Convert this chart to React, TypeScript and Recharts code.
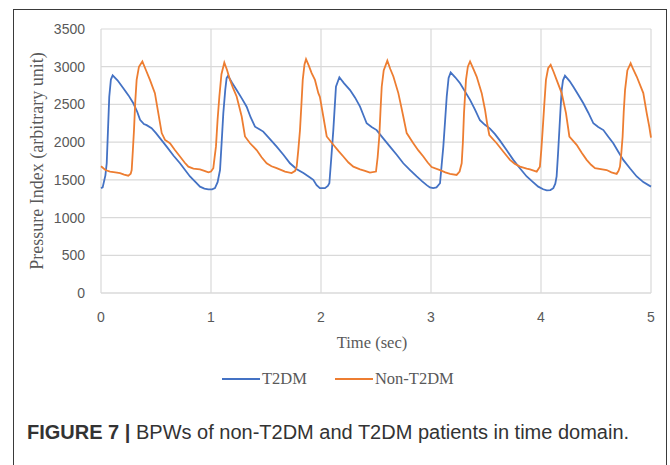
import { LineChart, Line, XAxis, YAxis, CartesianGrid } from "recharts";

// time (sec) / pressure index pairs
const T2DM_T = [
  0, 0.015, 0.04, 0.052, 0.075, 0.09, 0.106, 0.15, 0.203, 0.25, 0.294, 0.33, 0.355, 0.39, 0.415, 0.46, 0.5, 0.597,
  0.66, 0.718, 0.809, 0.86, 0.9, 0.94, 0.976, 1.01, 1.036, 1.06, 1.082, 1.097, 1.112, 1.13, 1.142, 1.155, 1.19, 1.233,
  1.28, 1.324, 1.36, 1.4, 1.44, 1.475, 1.53, 1.597, 1.66, 1.718, 1.78, 1.84, 1.9, 1.93, 1.96, 1.99, 2.036, 2.062,
  2.076, 2.094, 2.112, 2.136, 2.167, 2.21, 2.264, 2.31, 2.355, 2.385, 2.415, 2.46, 2.506, 2.56, 2.627, 2.69, 2.748,
  2.81, 2.87, 2.92, 2.961, 2.99, 3.02, 3.05, 3.082, 3.097, 3.112, 3.128, 3.143, 3.16, 3.179, 3.22, 3.264, 3.31, 3.355,
  3.4, 3.445, 3.49, 3.536, 3.58, 3.627, 3.69, 3.748, 3.81, 3.87, 3.92, 3.975, 4.02, 4.052, 4.085, 4.112, 4.13, 4.142,
  4.155, 4.167, 4.178, 4.188, 4.2, 4.218, 4.26, 4.294, 4.34, 4.385, 4.43, 4.476, 4.52, 4.567, 4.61, 4.657, 4.7, 4.748,
  4.81, 4.87, 4.93, 5,
];
const T2DM_V = [
  1390, 1400, 1560, 1720, 2600, 2830, 2885, 2820, 2715, 2620, 2515, 2400, 2295, 2240, 2225, 2185, 2120, 1940,
  1820, 1720, 1545, 1470, 1410, 1385, 1375, 1375, 1390, 1470, 1630, 2000, 2385, 2700, 2850, 2880, 2790, 2690,
  2580, 2470, 2330, 2205, 2170, 2140, 2050, 1940, 1830, 1720, 1640, 1590, 1530, 1500, 1430, 1390, 1390, 1420,
  1455, 1800, 2160, 2735, 2860, 2780, 2690, 2590, 2470, 2360, 2250, 2200, 2160, 2060, 1940, 1830, 1720,
  1630, 1545, 1480, 1430, 1400, 1390, 1400, 1455, 1700, 1940, 2280, 2605, 2850, 2925, 2860, 2780, 2670, 2560,
  2430, 2290, 2230, 2180, 2110, 2020, 1890, 1765, 1650, 1545, 1480, 1410, 1375, 1360, 1365, 1390, 1450, 1545,
  1850, 2160, 2450, 2690, 2820, 2880, 2810, 2735, 2625, 2515, 2390, 2250, 2200, 2160, 2075, 1985, 1880, 1765,
  1650, 1545, 1470, 1410,
];

const NON_T = [
  0, 0.04, 0.082, 0.13, 0.173, 0.21, 0.248, 0.27, 0.279, 0.29, 0.3, 0.312, 0.324, 0.345, 0.376, 0.41, 0.445, 0.49,
  0.521, 0.552, 0.582, 0.627, 0.67, 0.718, 0.76, 0.794, 0.84, 0.9, 0.94, 0.976, 1, 1.021, 1.033, 1.045, 1.06, 1.076,
  1.095, 1.121, 1.145, 1.173, 1.2, 1.233, 1.255, 1.279, 1.309, 1.355, 1.415, 1.46, 1.506, 1.55, 1.597, 1.673, 1.733,
  1.765, 1.779, 1.794, 1.809, 1.822, 1.834, 1.85, 1.864, 1.89, 1.915, 1.945, 1.976, 1.99, 2.021, 2.052, 2.112, 2.16,
  2.203, 2.25, 2.294, 2.355, 2.4, 2.445, 2.5, 2.515, 2.53, 2.542, 2.552, 2.57, 2.603, 2.63, 2.658, 2.703, 2.725,
  2.748, 2.779, 2.839, 2.885, 2.93, 2.97, 3.006, 3.082, 3.13, 3.173, 3.233, 3.26, 3.279, 3.29, 3.3, 3.318, 3.335,
  3.355, 3.385, 3.415, 3.461, 3.491, 3.51, 3.53, 3.597, 3.66, 3.718, 3.76, 3.809, 3.87, 3.9, 3.961, 3.99, 4.003,
  4.015, 4.03, 4.045, 4.065, 4.088, 4.115, 4.142, 4.188, 4.227, 4.258, 4.324, 4.37, 4.415, 4.455, 4.491, 4.597,
  4.64, 4.688, 4.705, 4.718, 4.73, 4.742, 4.752, 4.764, 4.785, 4.815, 4.84, 4.87, 4.93, 4.961, 4.985, 5,
];
const NON_V = [
  1680, 1630, 1610, 1600, 1590, 1570, 1555, 1580, 1630, 1900, 2160, 2550, 2825, 3000, 3070, 2950, 2825, 2650,
  2385, 2120, 2030, 1985, 1900, 1810, 1730, 1675, 1650, 1640, 1620, 1600, 1610, 1655, 1800, 1940, 2300, 2605,
  2900, 3055, 2960, 2825, 2720, 2605, 2480, 2340, 2075, 1985, 1895, 1800, 1720, 1680, 1655, 1610, 1590,
  1620, 1675, 1900, 2160, 2500, 2825, 3030, 3100, 3010, 2915, 2825, 2650, 2600, 2340, 2075, 1965, 1880,
  1810, 1730, 1675, 1640, 1620, 1595, 1610, 1800, 2075, 2450, 2735, 2950, 3080, 2970, 2870, 2650, 2500,
  2340, 2120, 1985, 1890, 1810, 1730, 1670, 1630, 1600, 1580, 1565, 1610, 1720, 2000, 2385, 2825, 3000,
  3070, 2970, 2870, 2650, 2430, 2250, 2095, 1985, 1870, 1765, 1715, 1675, 1650, 1640, 1610, 1675, 1900,
  2160, 2500, 2825, 2980, 3025, 2930, 2825, 2650, 2385, 2075, 1965, 1860, 1765, 1700, 1655, 1630,
  1600, 1580, 1620, 1675, 1850, 2075, 2400, 2690, 2950, 3045, 2960, 2870, 2650, 2385, 2200, 2060,
];

const X_TICKS = [0, 1, 2, 3, 4, 5];
const Y_TICKS = [0, 500, 1000, 1500, 2000, 2500, 3000, 3500];

const t2dm = T2DM_T.map((t, i) => ({ t, v: T2DM_V[i] }));
const nonT2dm = NON_T.map((t, i) => ({ t, v: NON_V[i] }));

const BLUE = "#4472C4";
const ORANGE = "#ED7D31";
const tickStyle = { fontFamily: "'Liberation Sans', Arial, sans-serif", fontSize: 14, fill: "#595959" };
const serif = "'Liberation Serif', 'Times New Roman', serif";

export default function App() {
  return (
    <div style={{ position: "absolute", left: 0, top: 0, width: 670, height: 465, background: "#fff", overflow: "hidden" }}>
      {/* figure frame */}
      <div
        style={{
          position: "absolute",
          left: 13,
          top: 9,
          width: 654,
          height: 470,
          border: "1px solid #3a3a3a",
          boxSizing: "border-box",
        }}
      />
      <div style={{ position: "absolute", left: 0, top: 0 }}>
        <LineChart width={670} height={360} margin={{ top: 29, right: 19, left: 41, bottom: 7 }}>
          <CartesianGrid stroke="#d9d9d9" strokeWidth={1.2} />
          <XAxis
            dataKey="t"
            type="number"
            domain={[0, 5]}
            ticks={X_TICKS}
            height={60}
            allowDuplicatedCategory={false}
            axisLine={{ stroke: "#d9d9d9", strokeWidth: 1.2 }}
            tickLine={false}
            tickMargin={13}
            tick={tickStyle}
            label={{
              content: (props: any) => {
                const vb = props.viewBox;
                return (
                  <text
                    x={vb.x + vb.width / 2 - 4}
                    y={vb.y + 49}
                    textAnchor="middle"
                    dominantBaseline="central"
                    style={{ fontFamily: serif, fontSize: 16.5, fill: "#595959" }}
                  >
                    Time (sec)
                  </text>
                );
              },
            }}
          />
          <YAxis
            type="number"
            domain={[0, 3500]}
            ticks={Y_TICKS}
            width={60}
            axisLine={false}
            tickLine={false}
            tickMargin={10}
            tick={tickStyle}
            label={{
              content: (props: any) => {
                const vb = props.viewBox;
                const cx = vb.x - 4;
                const cy = vb.y + vb.height / 2;
                return (
                  <text
                    x={cx}
                    y={cy}
                    transform={`rotate(-90 ${cx} ${cy})`}
                    textAnchor="middle"
                    dominantBaseline="central"
                    style={{ fontFamily: serif, fontSize: 18, fill: "#595959" }}
                  >
                    Pressure Index (arbitrary unit)
                  </text>
                );
              },
            }}
          />
          <Line
            data={t2dm}
            dataKey="v"
            name="T2DM"
            type="linear"
            stroke={BLUE}
            strokeWidth={1.8}
            dot={false}
            isAnimationActive={false}
          />
          <Line
            data={nonT2dm}
            dataKey="v"
            name="Non-T2DM"
            type="linear"
            stroke={ORANGE}
            strokeWidth={1.8}
            dot={false}
            isAnimationActive={false}
          />
        </LineChart>
      </div>
      {/* legend */}
      <div
        style={{
          position: "absolute",
          left: 222,
          top: 369,
          display: "flex",
          alignItems: "center",
          fontFamily: serif,
          fontSize: 16.5,
          color: "#595959",
          whiteSpace: "nowrap",
        }}
      >
        <span style={{ display: "inline-block", width: 38, height: 2, background: BLUE }} />
        <span style={{ marginLeft: 2 }}>T2DM</span>
        <span style={{ display: "inline-block", width: 38, height: 2, background: ORANGE, marginLeft: 28 }} />
        <span style={{ marginLeft: 2 }}>Non-T2DM</span>
      </div>
      {/* caption */}
      <div
        style={{
          position: "absolute",
          left: 27,
          top: 421,
          fontFamily: "'Liberation Sans', Arial, sans-serif",
          fontSize: 20,
          color: "#333",
          whiteSpace: "nowrap",
        }}
      >
        <b>FIGURE 7 |</b> BPWs of non-T2DM and T2DM patients in time domain.
      </div>
    </div>
  );
}
